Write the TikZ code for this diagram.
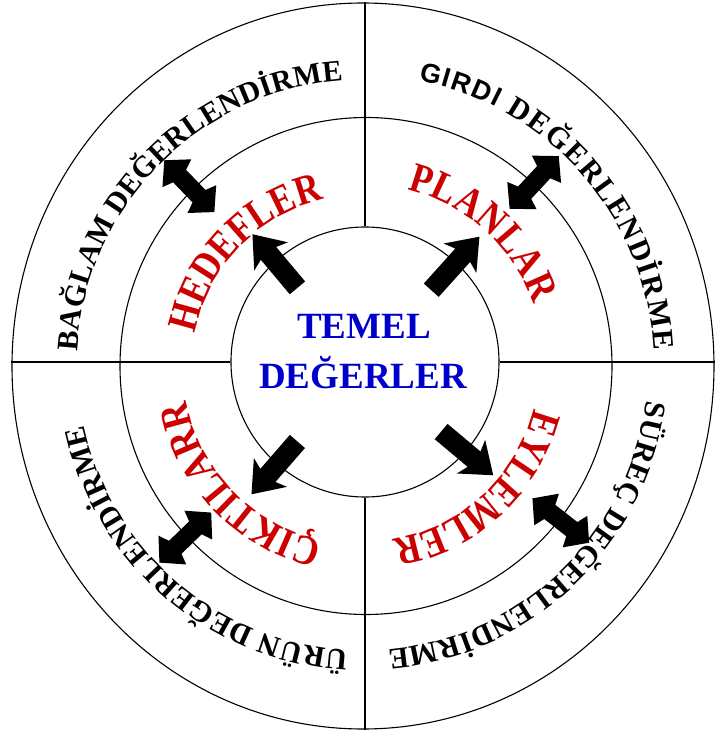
\documentclass[tikz,border=0pt]{standalone}
\usepackage{fontspec}
\setmainfont{Liberation Serif}
\newfontfamily\outerfont{Liberation Serif}
\newfontfamily\girdifont{Liberation Sans}
\newfontfamily\redfont[FakeStretch=0.85]{Liberation Serif}
\usetikzlibrary{decorations.text,shapes.geometric}
\definecolor{lblred}{RGB}{204,0,0}
\definecolor{lblblue}{RGB}{0,0,204}
\newcommand\outerfmt{\outerfont\bfseries\fontsize{30}{34}\selectfont}
\newcommand\girdifmt{\girdifont\bfseries\fontsize{27}{34}\selectfont}
\newcommand\redfmt{\color{lblred}\redfont\bfseries\fontsize{42}{48}\selectfont}
\newcommand\radarrow[3]{%
  \fill[rotate=#1] (#2,-10) -- ({#3-25},-10) -- ({#3-29},-22) -- (#3,0) -- ({#3-29},22) -- ({#3-25},10) -- (#2,10) -- cycle;}
\newcommand\dblarrow[2]{%
  \fill[rotate=#1] ({#2-36},0) -- ({#2-18},20) -- ({#2-14},9) -- ({#2+14},9) -- ({#2+18},20) -- ({#2+36},0) -- ({#2+18},-20) -- ({#2+14},-9) -- ({#2-14},-9) -- ({#2-18},-20) -- cycle;}
\begin{document}
\begin{tikzpicture}[x=1pt,y=1pt,
  ring/.style={draw=black, line width=1.1pt, ellipse, inner sep=0pt},
  divider/.style={draw=black, line width=1.1pt},
  centertext/.style={font=\bfseries\fontsize{37}{40}\selectfont, text=lblblue, inner sep=0pt}]
\useasboundingbox (-363,-367) rectangle (352,366);
\fill[white] (-363,-367) rectangle (352,366);
% circles
\node[ring, minimum width=702, minimum height=726] (outer) at (0,0) {};
\node[ring, minimum width=492, minimum height=497] (middle) at (3,0) {};
\node[ring, minimum width=268, minimum height=270] (inner) at (2,4) {};
% dividers
\draw[divider] (inner.north) -- (inner.north |- outer.north);
\draw[divider] (inner.south) -- (inner.south |- outer.south);
\draw[divider] (inner.west) -- (inner.west -| outer.west);
\draw[divider] (inner.east) -- (inner.east -| outer.east);
% centre text
\node[centertext] (temel) at (1,40) {TEMEL};
\node[centertext] (degerler) at (0,-7) {DEĞERLER};
% single arrows (inner ring)
\radarrow{130}{102}{172}
\radarrow{48}{102}{174}
\radarrow{-40}{102}{170}
\radarrow{-131}{100}{170}
% double arrows across middle circle
\dblarrow{134}{250}
\dblarrow{47}{251}
\dblarrow{-38}{251}
\dblarrow{-136}{247}
% outer ring labels
\path[decorate, decoration={text along path, text align=fit to path,
  text={|\outerfmt|BAĞLAM DEĞERLENDİRME}}]
  (177:286) arc[start angle=177, end angle=94, radius=286];
\path[decorate, decoration={text along path, text align=fit to path,
  text={|\girdifmt|GIRDI |\outerfmt|DEĞERLENDİRME}}]
  (79:291) arc[start angle=79, end angle=3, radius=291];
\path[decorate, decoration={text along path, text align=fit to path,
  text={|\outerfmt|SÜREÇ DEĞERLENDİRME}}]
  (-7:285) arc[start angle=-7, end angle=-85, radius=285];
\path[decorate, decoration={text along path, text align=fit to path,
  text={|\outerfmt|ÜRÜN DEĞERLENDİRME}}]
  (-93:285) arc[start angle=-93, end angle=-168, radius=285];
% middle ring labels
\path[decorate, decoration={text along path, text align=fit to path,
  text={|\redfmt|HEDEFLER}}]
  (169:171) arc[start angle=169, end angle=104, radius=171];
\path[decorate, decoration={text along path, text align=fit to path,
  text={|\redfmt|PLANLAR}}]
  (76:182) arc[start angle=76, end angle=20, radius=182];
\path[decorate, decoration={text along path, text align=fit to path,
  text={|\redfmt|EYLEMLER}}]
  (-14:176) arc[start angle=-14, end angle=-80, radius=176];
\path[decorate, decoration={text along path, text align=fit to path,
  text={|\redfmt|ÇIKTILARR}}]
  (-103:180) arc[start angle=-103, end angle=-169, radius=180];
\end{tikzpicture}
\end{document}
